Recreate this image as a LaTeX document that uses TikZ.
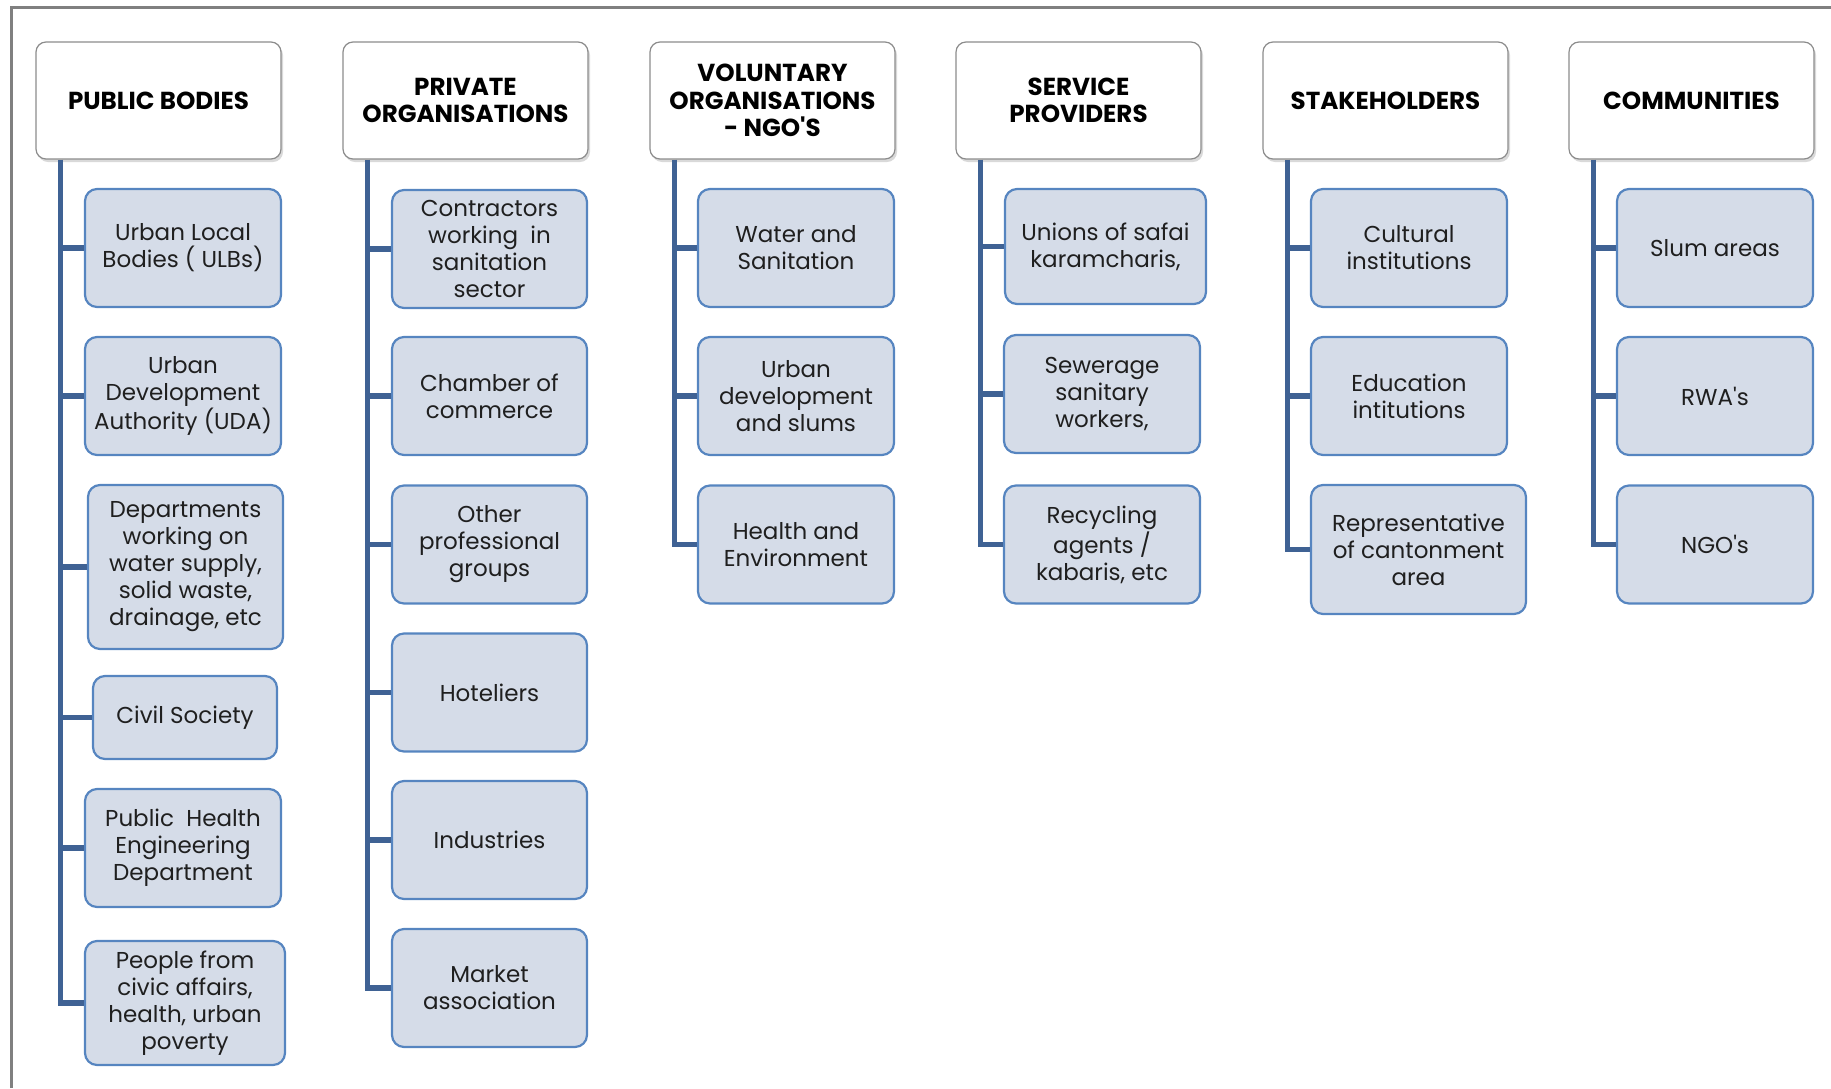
\documentclass[tikz,border=0pt]{standalone}
\usepackage{fontspec}
\setmainfont{Poppins}
\usetikzlibrary{shadows}
\definecolor{boxfill}{RGB}{213,220,232}
\definecolor{boxline}{RGB}{86,133,192}
\definecolor{linkblue}{RGB}{63,98,148}
\definecolor{framegray}{RGB}{128,128,128}
\tikzset{
  head/.style={draw=black!45, line width=0.6pt, fill=white, rounded corners=5pt,
    minimum width=122.5pt, minimum height=58.5pt, inner sep=1pt, align=center,
    font=\fontsize{12.3}{13.6}\selectfont\bfseries,
    drop shadow={opacity=0.3, shadow xshift=1pt, shadow yshift=-1.5pt}},
  item/.style={draw=boxline, line width=1.1pt, fill=boxfill, rounded corners=6pt,
    minimum width=98pt, minimum height=59pt, inner sep=1pt, align=center,
    text=black!88, font=\fontsize{11.5}{13.5}\selectfont},
  link/.style={draw=linkblue, line width=2.6pt},
}

\begin{document}
\begin{tikzpicture}[x=0.5pt, y=-0.5pt]
\useasboundingbox (0,0) rectangle (1831,1088);
\draw[framegray, line width=1.5pt] (11,1088) -- (11,7) -- (1831,7);

\node[head] (pb) at (158.5,100.5) {PUBLIC BODIES};
\node[head] (po) at (465.5,100.5) {PRIVATE\\ORGANISATIONS};
\node[head] (vo) at (772.5,100.5) {VOLUNTARY\\ORGANISATIONS\\- NGO\textquotesingle S};
\node[head] (sp) at (1078.5,100.5) {SERVICE\\PROVIDERS};
\node[head] (sh) at (1385.5,100.5) {STAKEHOLDERS};
\node[head] (co) at (1691.5,100.5) {COMMUNITIES};

\node[item] (pb1) at (183,248) {Urban Local\\Bodies ( ULBs)};
\node[item] (pb2) at (183,396) {Urban\\Development\\Authority (UDA)};
\node[item, minimum width=97.5pt, minimum height=82pt] (pb3) at (185.5,567) {Departments\\working on\\water supply,\\solid waste,\\drainage, etc};
\node[item, minimum width=92pt, minimum height=41.5pt] (pb4) at (185,717.5) {Civil Society};
\node[item] (pb5) at (183,848) {Public\ \ Health\\Engineering\\Department};
\node[item, minimum width=100pt, minimum height=62pt] (pb6) at (185,1003) {People from\\civic affairs,\\health, urban\\poverty};

\node[item, minimum width=97.5pt] (po1) at (489.5,249) {Contractors\\working\ \ in\\sanitation\\sector};
\node[item, minimum width=97.5pt] (po2) at (489.5,396) {Chamber of\\commerce};
\node[item, minimum width=97.5pt] (po3) at (489.5,544.5) {Other\\professional\\groups};
\node[item, minimum width=97.5pt] (po4) at (489.5,692.5) {Hoteliers};
\node[item, minimum width=97.5pt] (po5) at (489.5,840) {Industries};
\node[item, minimum width=97.5pt] (po6) at (489.5,988) {Market\\association};

\node[item] (vo1) at (796,248) {Water and\\Sanitation};
\node[item] (vo2) at (796,396) {Urban\\development\\and slums};
\node[item] (vo3) at (796,544.5) {Health and\\Environment};

\node[item, minimum width=100.5pt, minimum height=57.5pt] (sp1) at (1105.5,246.5) {Unions of safai\\karamcharis,};
\node[item] (sp2) at (1102,394) {Sewerage\\sanitary\\workers,};
\node[item] (sp3) at (1102,544.5) {Recycling\\agents /\\kabaris, etc};

\node[item] (sh1) at (1409,248) {Cultural\\institutions};
\node[item] (sh2) at (1409,396) {Education\\intitutions};
\node[item, minimum width=107.5pt, minimum height=64.5pt] (sh3) at (1418.5,549.5) {Representative\\of cantonment\\area};

\node[item] (co1) at (1715,248) {Slum areas};
\node[item] (co2) at (1715,396) {RWA\textquotesingle s};
\node[item] (co3) at (1715,544.5) {NGO\textquotesingle s};

\coordinate (pbt) at ([xshift=12.5pt]pb.south west);
\coordinate (pot) at ([xshift=12.5pt]po.south west);
\coordinate (vot) at ([xshift=12.5pt]vo.south west);
\coordinate (spt) at ([xshift=12.5pt]sp.south west);
\coordinate (sht) at ([xshift=12.5pt]sh.south west);
\coordinate (cot) at ([xshift=12.5pt]co.south west);

\draw[link] (pbt) |- (pb6.west);
\draw[link] (pbt |- pb1.west) -- (pb1.west);
\draw[link] (pbt |- pb2.west) -- (pb2.west);
\draw[link] (pbt |- pb3.west) -- (pb3.west);
\draw[link] (pbt |- pb4.west) -- (pb4.west);
\draw[link] (pbt |- pb5.west) -- (pb5.west);

\draw[link] (pot) |- (po6.west);
\draw[link] (pot |- po1.west) -- (po1.west);
\draw[link] (pot |- po2.west) -- (po2.west);
\draw[link] (pot |- po3.west) -- (po3.west);
\draw[link] (pot |- po4.west) -- (po4.west);
\draw[link] (pot |- po5.west) -- (po5.west);

\draw[link] (vot) |- (vo3.west);
\draw[link] (vot |- vo1.west) -- (vo1.west);
\draw[link] (vot |- vo2.west) -- (vo2.west);

\draw[link] (spt) |- (sp3.west);
\draw[link] (spt |- sp1.west) -- (sp1.west);
\draw[link] (spt |- sp2.west) -- (sp2.west);

\draw[link] (sht) |- (sh3.west);
\draw[link] (sht |- sh1.west) -- (sh1.west);
\draw[link] (sht |- sh2.west) -- (sh2.west);

\draw[link] (cot) |- (co3.west);
\draw[link] (cot |- co1.west) -- (co1.west);
\draw[link] (cot |- co2.west) -- (co2.west);
\end{tikzpicture}
\end{document}
